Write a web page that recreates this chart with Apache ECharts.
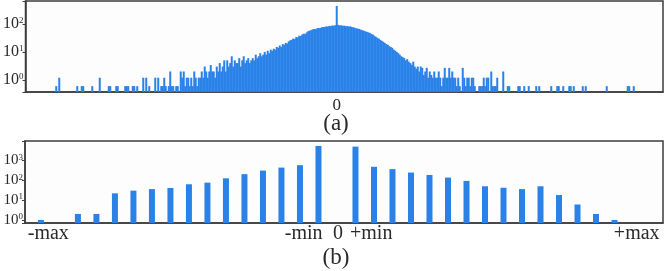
<!DOCTYPE html>
<html><head><meta charset="utf-8">
<script src="https://cdn.jsdelivr.net/npm/echarts@6/dist/echarts.min.js"></script>
<style>html,body{margin:0;padding:0;background:#fff}#c{width:665px;height:271px}</style>
</head><body><div id="c"></div>
<script>
// ---------- Panel (a): fine histogram (bin offsets relative to zero bin) ----------
const aFirstBin = -207;
const aCounts = [
  0,0,0,0,0,0,0,0,0,0, 0,0,0,0,0,0,0,0,0,0, 0.6,0,1.2,0,0,
  0,0,0,0,0,0,0,0,0, 0.6,0,0,0.6,0.6,0, 0,0,0,0,0.6,0,0,0,0,1.2,
  0,0,0,0,0, 0.6,0.6,0,0,0, 0.6,0.6,0,0,0,0, 0.6,0.6,0.6,0,0, 0.6,0.6,0,0.6,
  0,0,0,1.2,0, 1.2,0,0.6,0,0,0,1.2,0,1.2,0, 0.6,0.6,1.2,0.6,0,0.6,2,0.6,0.6,0,
  0.6,0.6,0,2,1.2,2,0.6,1.2,1.2,0.6, 1.2,0.6,2,1.2,0.6,1.2,1.2, 2,1.2,3,2,1.2,2,3.4,2,
  2,1.2,3,2,4,2,3,5,2, 5,3,4,7,3,5,4,4,6,3,5,7,4,5,6,4,
  5, 6,5,8,6,7,9,7,8,10,8,11,9,12, 11,13,12,15,14,17,15,19,18,21,20,
  24,26, 27,30,29,34,33,38,37,42,45,44,50,55,58, 60,64,66,65,70,72,71,76,78,77,
  82,80,85,84,88,86,90, 440, 92,88,90,85,87,83,84,80,82, 78,76,73,70,68,66,62,60,
  57,55,52,50,48, 44,42,38,35,32,30,27,25,23,21,19,18,16,15, 14,12,11,10,9,8,
  7,6.5,6,5,5.5,4.5,4, 3.5,4.5,3,2.5,3,2,3,2.7,1.5,2,2.7,1.2,2,1.5, 1.2,2,1.2,1.2,
  2,1.2,0.6,1.2,2.7,1.2,1.2,2.7,1.2,2,1.2, 1.2,0.6,1.2,0.6,0,2.7,1.2,0.6,1.2,1.2,0.6,1.2,1.2,0.6,
  0,0,0.6,0.6,0.6,1.2,0.6,1.2,1.2,0, 2,0.6,0.6,0.6,1.2,0,0,0,2,0, 0,0.6,0.6,0,0,
  0,0,0,0.6,0.6, 0,0,0.6,0,0, 0.6,0,0,0,0, 0.6,0,0.6,0,0, 0,0,0,0,0,
  0.6,0,0,0,0.6, 0.6,0,0,0.6,0, 0,0,0.6,0.6,0, 0.6,0,0,0,0, 0,0.6,0,0.6,0,
  0,0,0,0,0, 0,0,0,0,0, 0,0,0.6,0,0, 0,0,0,0,0, 0,0,0,0,0,
  0,0.6,0.6,0,0, 0.6,0,0,0,0, 0,0,0,0,0, 0,0,0,0,0, 0,0,0,0,0
];
const aTickLabels = ['0'];
const aYMin = 0.37, aYMax = 660;

// ---------- Panel (b): coarse histogram ----------
const bBins   = [-16,-15,-14,-13,-12,-11,-10,-9,-8,-7,-6,-5,-4,-3,-2,-1,0,1,2,3,4,5,6,7,8,9,10,11,12,13,14,15,16];
const bCounts = [1,0,2,2,22,30,36,41,63,76,126,204,309,437,580,5400,0,5000,480,365,245,186,137,93,50,42,36,50,18,6,2,1,0];
const bTickPos    = [-15.6, -1.8, 0.05, 1.85, 16.2];
const bTickLabels = ['-max', '-min', '0', '+min', '+max'];
const bXMin = -16.86, bXMax = 17.62;
const bYMin = 0.7, bYMax = 9600;

const panelTitles = ['(a)', '(b)'];

const SERIF = "'Liberation Serif', 'Times New Roman', serif";
const BLUE = '#2a82e8';
const FRAME = '#3c3c3c';
const TEXT = '#2a2a2a';

const aCats = aCounts.map((_, i) => String(aFirstBin + i));
const aData = aCounts.map(v => v > 0 ? v : '-');
const bData = bBins.map((k, i) => [k, bCounts[i] > 0 ? bCounts[i] : '-']);

function powLabel(v) {
  const e = Math.log10(v);
  const r = Math.round(e);
  if (Math.abs(e - r) > 1e-6) return '';
  return '10{s|' + r + '}';
}

const chart = echarts.init(document.getElementById('c'), null, {renderer: 'canvas'});
chart.setOption({
  animation: false,
  backgroundColor: '#fff',
  grid: [
    {left: 25, top: 1, width: 638, height: 91, show: true, borderColor: FRAME, borderWidth: 1.5, backgroundColor: '#fdfdfd'},
    {left: 25, top: 141, width: 638, height: 82, show: true, borderColor: FRAME, borderWidth: 1.5, backgroundColor: '#fdfdfd'}
  ],
  xAxis: [
    {
      gridIndex: 0, type: 'category', data: aCats, boundaryGap: true,
      axisLine: {lineStyle: {color: FRAME, width: 1.5}},
      axisTick: {show: false},
      splitLine: {show: false},
      axisLabel: {
        interval: (idx, val) => aTickLabels.indexOf(val) >= 0,
        margin: 5, fontFamily: SERIF, fontSize: 17, color: TEXT
      }
    },
    {
      gridIndex: 1, type: 'value', min: bXMin, max: bXMax,
      axisLine: {onZero: false, lineStyle: {color: FRAME, width: 1.5}},
      axisTick: {show: false},
      splitLine: {show: false},
      axisLabel: {
        customValues: bTickPos,
        formatter: v => { const i = bTickPos.indexOf(v); return i >= 0 ? bTickLabels[i] : ''; },
        margin: 1, fontFamily: SERIF, fontSize: 20, color: TEXT,
        showMinLabel: true, showMaxLabel: true
      }
    }
  ],
  yAxis: [
    {
      gridIndex: 0, type: 'log', min: aYMin, max: aYMax, startValue: aYMin,
      axisLine: {show: true, onZero: false, lineStyle: {color: FRAME, width: 1.5}},
      axisTick: {show: true, length: 3, lineStyle: {color: FRAME}},
      splitLine: {show: false},
      minorTick: {show: false},
      axisLabel: {
        formatter: powLabel, margin: 2, fontFamily: SERIF, fontSize: 16, color: TEXT,
        rich: {s: {fontSize: 9, fontFamily: SERIF, color: TEXT, verticalAlign: 'top', padding: [0, 0, 6, 0]}}
      }
    },
    {
      gridIndex: 1, type: 'log', min: bYMin, max: bYMax, startValue: bYMin,
      axisLine: {show: true, onZero: false, lineStyle: {color: FRAME, width: 1.5}},
      axisTick: {show: true, length: 3, lineStyle: {color: FRAME}},
      splitLine: {show: false},
      minorTick: {show: false},
      axisLabel: {
        formatter: powLabel, margin: 2, fontFamily: SERIF, fontSize: 15, color: TEXT,
        rich: {s: {fontSize: 9, fontFamily: SERIF, color: TEXT, verticalAlign: 'top', padding: [0, 0, 6, 0]}}
      }
    }
  ],
  series: [
    {type: 'bar', xAxisIndex: 0, yAxisIndex: 0, data: aData, barWidth: 2, itemStyle: {color: BLUE}},
    {type: 'bar', xAxisIndex: 1, yAxisIndex: 1, data: bData, barWidth: 6, itemStyle: {color: BLUE}}
  ],
  graphic: [
    {type: 'text', x: 336, y: 124, style: {text: panelTitles[0], font: '23px ' + SERIF, fill: TEXT, textAlign: 'center', textVerticalAlign: 'middle'}},
    {type: 'text', x: 336, y: 258, style: {text: panelTitles[1], font: '23px ' + SERIF, fill: TEXT, textAlign: 'center', textVerticalAlign: 'middle'}}
  ]
});
</script>
</body></html>
